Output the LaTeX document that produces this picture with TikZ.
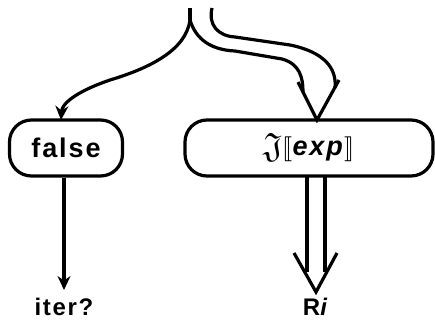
\documentclass[tikz,border=0pt]{standalone}
\usepackage{amsmath, amssymb}
\usepackage{stmaryrd}
\usepackage{graphicx}
\usepackage{fontspec}
\setsansfont{Liberation Sans}[LetterSpace=7]
\usetikzlibrary{calc, arrows.meta}

\begin{document}
\begin{tikzpicture}[x=1pt, y=-1pt, line width=3.2pt,
		box/.style={draw, rounded corners=22pt, minimum height=56pt, font=\sffamily\bfseries\fontsize{27}{30}\selectfont},
		lbl/.style={font=\sffamily\bfseries\fontsize{24}{28}\selectfont},
		tip/.style={-{Stealth[length=14pt, width=13pt]}}]
			\useasboundingbox (0,0) rectangle (435,321);
			
			\coordinate (top) at (190,8);
			\coordinate (split) at (190,20);
			\coordinate (top2) at (212,8);
			
			\node [box, minimum width=113pt] (false) at (66,148) {false};
			\node [box, minimum width=248pt] (sem) at (309,148) {\raisebox{-2pt}{\scalebox{1.3}{$\mathfrak{J}$}}$\llbracket$\textit{exp}$\rrbracket$};
			\node [lbl] (iter) at (64,307) {iter?};
			\node [lbl] (Ri) at (316,307) {R\textit{i}};
			
			\coordinate (in) at (303,92);
			\coordinate (out) at (335,88);
			\coordinate (hit) at (317,120);
			\coordinate (drop) at (316,176);
			\coordinate (low) at (316,292);
			
			% split from the top
			\draw (top) -- (split);
			\draw [tip] (split) .. controls (186,50) and (150,68) .. (110,80) .. controls (75,92) and (62,104) .. (61,120);
			
			% double arrow into the box
			\draw (split) .. controls (196,40) and (212,50) .. (235,51) -- (282,59) .. controls (300,64) and (303,78) .. (in);
			\draw (top2) .. controls (208,25) and (218,36) .. (235,37) -- (290,45) .. controls (324,52) and (337,68) .. (out);
			\draw [line join=miter] (298,82) -- (hit) -- (339,80);
			
			% outputs
			\draw [tip] ([xshift=-2pt]false.south) -- (64,290);
			\draw ([xshift=-9pt]drop) -- ([xshift=-9pt]drop |- 0,272);
			\draw ([xshift=9pt]drop) -- ([xshift=9pt]drop |- 0,272);
			\draw [line join=miter] (294,253) -- (low) -- (337,253);
		\end{tikzpicture}
\end{document}
